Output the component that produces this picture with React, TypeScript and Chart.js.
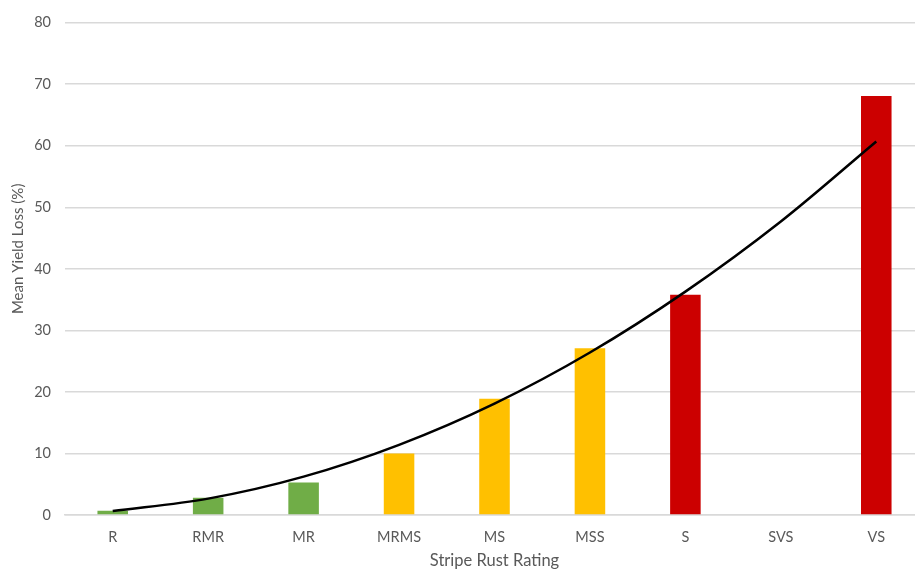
import React, { useEffect, useRef } from "react";
import { Chart, registerables } from "chart.js";

Chart.register(...registerables);

const categories = ["R", "RMR", "MR", "MRMS", "MS", "MSS", "S", "SVS", "VS"];
const yieldLoss: (number | null)[] = [0.7, 2.8, 5.3, 10.0, 18.9, 27.1, 35.8, null, 68.1];
const barColors = ["#70AD47", "#70AD47", "#70AD47", "#FFC000", "#FFC000", "#FFC000", "#CC0000", "#CC0000", "#CC0000"];
const trendValues = [0.65, 2.66, 6.23, 11.4, 18.1, 26.4, 36.3, 47.7, 60.7];
const yTitle = "Mean Yield Loss (%)";
const xTitle = "Stripe Rust Rating";

export default function App() {
  const ref = useRef<HTMLCanvasElement>(null);
  useEffect(() => {
    if (!ref.current) return;
    const font = "Lato, 'Open Sans', sans-serif";
    const yTitlePlugin = {
      id: "yTitlePlugin",
      afterDraw(chart: any) {
        const ctx = chart.ctx;
        const area = chart.chartArea;
        ctx.save();
        ctx.translate(18, (area.top + area.bottom) / 2 - 20);
        ctx.rotate(-Math.PI / 2);
        ctx.font = `15px ${font}`;
        ctx.fillStyle = "#595959";
        ctx.textAlign = "center";
        ctx.textBaseline = "middle";
        ctx.fillText(yTitle, 0, 0);
        ctx.restore();
      },
    };
    const chart = new Chart(ref.current, {
      data: {
        labels: categories,
        datasets: [
          {
            type: "line",
            data: trendValues,
            borderColor: "#000000",
            borderWidth: 2.5,
            pointRadius: 0,
            tension: 0.4,
            cubicInterpolationMode: "monotone",
            fill: false,
            order: 0,
          },
          {
            type: "bar",
            data: yieldLoss,
            backgroundColor: barColors,
            barPercentage: 0.32,
            categoryPercentage: 1,
            order: 1,
          },
        ],
      } as any,
      options: {
        animation: false,
        responsive: false,
        maintainAspectRatio: false,
        layout: { padding: { top: 20, right: 6, left: 9, bottom: 0 } },
        plugins: { legend: { display: false }, tooltip: { enabled: false } },
        scales: {
          x: {
            offset: true,
            grid: { display: false, drawTicks: false },
            border: { display: true, color: "#D9D9D9", width: 1.5 },
            ticks: { color: "#595959", font: { family: font, size: 14.5 }, padding: 14 },
            title: {
              display: true,
              text: xTitle,
              color: "#595959",
              font: { family: font, size: 16.5 },
              padding: { top: 5, bottom: 0 },
            },
            afterFit: (s: any) => {
              s.height = 56;
            },
          },
          y: {
            min: 0,
            max: 80,
            ticks: { stepSize: 10, color: "#595959", font: { family: font, size: 14.5 }, padding: 14 },
            grid: { color: "#D9D9D9", lineWidth: 1.5, drawTicks: false },
            border: { display: false },
            title: { display: false },
            afterFit: (s: any) => {
              s.width = 56;
            },
          },
        },
      },
      plugins: [yTitlePlugin],
    });
    return () => chart.destroy();
  }, []);
  return (
    <div style={{ position: "fixed", left: 0, top: 0, width: 915, height: 570, overflow: "hidden", background: "#fff" }}>
      <canvas ref={ref} width={930} height={571} style={{ display: "block" }} />
    </div>
  );
}
